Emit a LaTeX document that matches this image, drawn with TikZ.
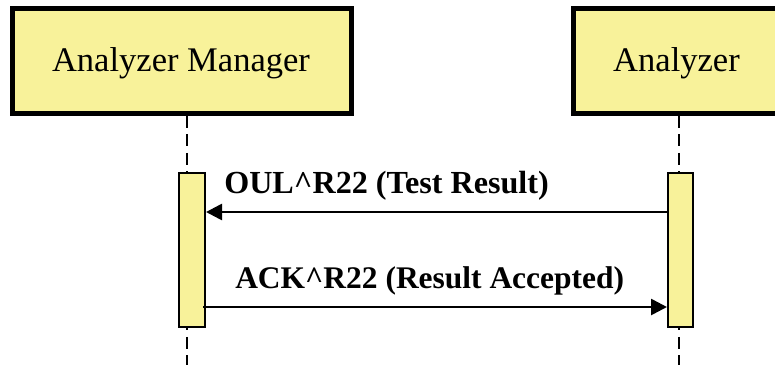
\documentclass[tikz,border=0pt]{standalone}
\usepackage{fontspec}
\setmainfont{Liberation Serif}
\usetikzlibrary{arrows.meta}
\definecolor{boxyellow}{RGB}{248,242,154}
\tikzset{
  actor/.style={draw=black, fill=boxyellow, line width=3.75pt, inner sep=0pt,
    minimum height=78.75pt},
  actortext/.style={font=\fontsize{25.9pt}{30pt}\selectfont, inner sep=0pt, anchor=base},
  activation/.style={draw=black, fill=boxyellow, line width=1.5pt, inner sep=0pt,
    minimum height=115.5pt},
  lifeline/.style={line width=1.5pt, dash pattern=on 9pt off 4.8pt},
  msg/.style={line width=2pt, -{Triangle[length=12pt,width=12pt]}},
  msglabel/.style={font=\bfseries, inner sep=0pt, anchor=base west}
}
\begin{document}
\begin{tikzpicture}[x=0.75pt,y=-0.75pt]
\useasboundingbox (0,0) rectangle (775,365);
\clip (0,0) rectangle (775,365);
% actors
\node[actor, minimum width=254.25pt] (mgr) at (182,61) {};
\node[actor, minimum width=158.25pt] (ana) at (679,61) {};
\node[actortext] (mgrt) at (181,71) {Analyzer Manager};
\node[actortext] (anat) at (676.5,71) {Analyzer};
% lifelines
\coordinate (l1a) at (187,116);
\coordinate (l1b) at (187,365);
\coordinate (l2a) at (679,116);
\coordinate (l2b) at (679,365);
\draw[lifeline] (l1a) -- (l1b);
\draw[lifeline] (l2a) -- (l2b);
% activations
\node[activation, minimum width=19.5pt] (act1) at (192,250) {};
\node[activation, minimum width=18.75pt] (act2) at (680.5,250) {};
% messages
\draw[msg] (act2.west |- 0,212) -- (act1.east |- 0,212);
\draw[msg] ([xshift=-2.25pt]act1.east |- 0,307) -- (act2.west |- 0,307);
\node[msglabel, font=\fontsize{24.1pt}{28pt}\selectfont\bfseries] (m1) at (224,193) {OUL\textasciicircum R22 (Test Result)};
\node[msglabel, font=\fontsize{23.6pt}{28pt}\selectfont\bfseries] (m2) at (235,288) {ACK\textasciicircum R22 (Result Accepted)};
\end{tikzpicture}
\end{document}
